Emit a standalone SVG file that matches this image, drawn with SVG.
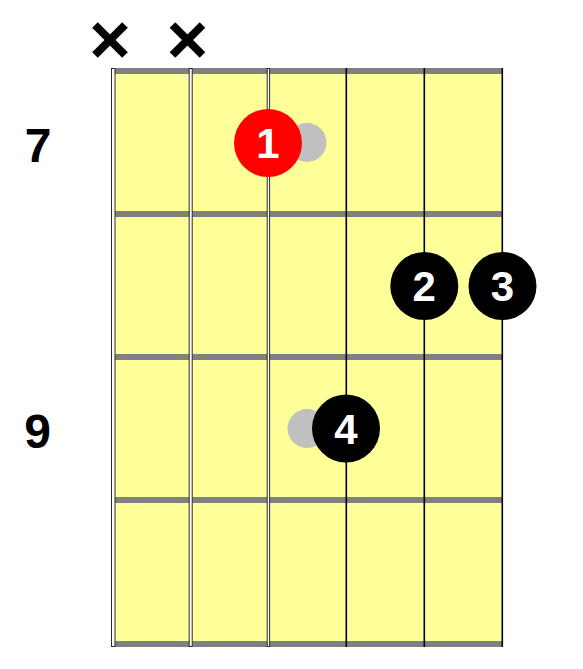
<svg xmlns="http://www.w3.org/2000/svg" width="583" height="669" viewBox="0 0 583 669">
  <style>
    .fret { fill: #808080; }
    .wound { fill: #ffffff; stroke: #2a2a2a; stroke-width: 1; }
    .plain { stroke: #000000; stroke-width: 1.6; }
    .ghost { fill: #c0c0c0; }
    .dot { fill: #000000; }
    .dot.root { fill: #ff0000; }
    .num { font-family: "Liberation Sans", Arial, sans-serif; font-weight: bold; font-size: 42px; fill: #ffffff; text-anchor: middle; }
    .fretnum { font-family: "Liberation Sans", Arial, sans-serif; font-weight: bold; font-size: 48px; fill: #000000; text-anchor: middle; }
    .mute { stroke: #000000; stroke-width: 8; stroke-linecap: butt; }
  </style>
  <rect width="583" height="669" fill="#ffffff"/>

  <g id="fretboard">
    <rect x="113" y="68" width="389" height="579" fill="#ffff99"/>
    <rect class="fret" x="113" y="68" width="389" height="6"/>
    <rect class="fret" x="113" y="211" width="389" height="6"/>
    <rect class="fret" x="113" y="354" width="389" height="6"/>
    <rect class="fret" x="113" y="497" width="389" height="6"/>
    <rect class="fret" x="113" y="641" width="389" height="6"/>
  </g>

  <g id="strings">
    <rect class="wound" x="111.5" y="68.5" width="3.5" height="578"/>
    <rect class="wound" x="189.2" y="68.5" width="3" height="578"/>
    <rect class="wound" x="267.2" y="68.5" width="2.4" height="578"/>
    <line class="plain" x1="346.3" y1="68" x2="346.3" y2="647"/>
    <line class="plain" x1="424.3" y1="68" x2="424.3" y2="647"/>
    <line class="plain" x1="502.3" y1="68" x2="502.3" y2="647"/>
  </g>

  <g id="mutes">
    <g id="mute-1">
      <line class="mute" x1="95" y1="25" x2="125" y2="55"/>
      <line class="mute" x1="125" y1="25" x2="95" y2="55"/>
    </g>
    <g id="mute-2">
      <line class="mute" x1="172.5" y1="25" x2="202.5" y2="55"/>
      <line class="mute" x1="202.5" y1="25" x2="172.5" y2="55"/>
    </g>
  </g>

  <g id="fret-numbers">
    <text id="fret-7" class="fretnum" x="38" y="161.5">7</text>
    <text id="fret-9" class="fretnum" x="37.5" y="448">9</text>
  </g>

  <g id="connectors"></g>

  <g id="ghost-1"><circle class="ghost" cx="307" cy="142.5" r="19.5"/></g>
  <g id="ghost-2"><circle class="ghost" cx="307" cy="428.5" r="19.5"/></g>

  <g id="finger-1">
    <circle class="dot root" cx="268" cy="143" r="34"/>
    <text class="num" x="268" y="158">1</text>
  </g>
  <g id="finger-2">
    <circle class="dot" cx="424.3" cy="286" r="34"/>
    <text class="num" x="424.3" y="301">2</text>
  </g>
  <g id="finger-3">
    <circle class="dot" cx="502.5" cy="286" r="34"/>
    <text class="num" x="502.5" y="301">3</text>
  </g>
  <g id="finger-4">
    <circle class="dot" cx="346" cy="428.5" r="34"/>
    <text class="num" x="346" y="443.5">4</text>
  </g>
</svg>
